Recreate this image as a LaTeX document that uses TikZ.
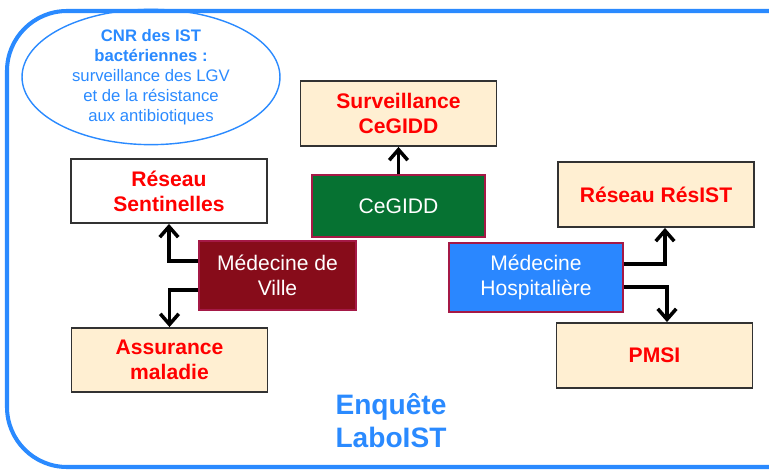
\documentclass[tikz,border=0pt]{standalone}
\usepackage{fontspec}
\setmainfont{Liberation Sans}
\usetikzlibrary{positioning}
\usetikzlibrary{shapes.geometric,arrows.meta}

\definecolor{frameblue}{RGB}{42,138,255}
\definecolor{cream}{RGB}{255,239,210}
\definecolor{boxgray}{RGB}{50,50,50}
\definecolor{cegiddgreen}{RGB}{6,114,50}
\definecolor{villered}{RGB}{135,12,26}
\definecolor{hospblue}{RGB}{42,135,255}
\definecolor{srcedge}{RGB}{165,25,70}

\begin{document}
\begin{tikzpicture}[x=0.02cm,y=-0.02cm,
  every node/.style={align=center,font=\fontsize{12}{14.2}\selectfont},
  box/.style={draw=boxgray,line width=1.1pt,fill=cream,minimum width=3.92cm,minimum height=1.3cm,
    text=red,font=\bfseries\fontsize{12}{14.2}\selectfont},
  src/.style={draw=srcedge,line width=0.8pt,text=white},
  flow/.style={line width=2pt,-{Straight Barb[length=6pt,width=10.5pt]}}]
\useasboundingbox (0,0) rectangle (769,470);
\clip (0,0) rectangle (769,470);
\draw[frameblue,line width=2.3pt,rounded corners=1.2cm] (7,11) rectangle (830,467);
% laboratoire de reference
\node[ellipse,draw=frameblue,line width=0.8pt,minimum width=5.16cm,minimum height=2.02cm,inner sep=0pt,
  text=frameblue,font=\fontsize{9.5}{11.4}\selectfont] (cnr) at (151,77)
  {\textbf{CNR des IST}\\\textbf{bactériennes :}\\surveillance des LGV\\et de la résistance\\aux antibiotiques};
% sources et reseaux
\node[box] (surv) at (398.5,113.5) {Surveillance\\CeGIDD};
\node[src,fill=cegiddgreen,minimum width=3.46cm,minimum height=1.24cm] (cegidd) at (398.5,206) {CeGIDD};
\node[box,fill=white,minimum height=1.28cm] (sentinelles) at (169,191) {Réseau\\Sentinelles};
\node[src,fill=villered,minimum width=3.14cm,minimum height=1.38cm] (ville) at (277.5,275.5) {Médecine de\\Ville};
\node[box,minimum height=1.28cm] (assurance) at (169.5,360) {Assurance\\maladie};
\node[src,fill=hospblue,minimum width=3.48cm,minimum height=1.38cm] (hosp) at (536,277.5) {Médecine\\Hospitalière};
\node[box] (resist) at (656,194.5) {Réseau RésIST};
\node[box] (pmsi) at (654.5,355.5) {PMSI};
\node[text=frameblue,font=\bfseries\fontsize{16}{18.7}\selectfont] (enquete) at (391,421) {Enquête\\LaboIST};
% fleches
\draw[flow] (cegidd) -- (surv);
\draw[flow] ([yshift=0.29cm]ville.west) -| (sentinelles);
\draw[flow] ([yshift=-0.29cm]ville.west) -| (assurance);
\draw[flow] ([yshift=0.27cm]hosp.east) -| ([xshift=0.18cm]resist.south);
\draw[flow] ([yshift=-0.19cm]hosp.east) -| ([xshift=0.25cm]pmsi.north);
\end{tikzpicture}
\end{document}
